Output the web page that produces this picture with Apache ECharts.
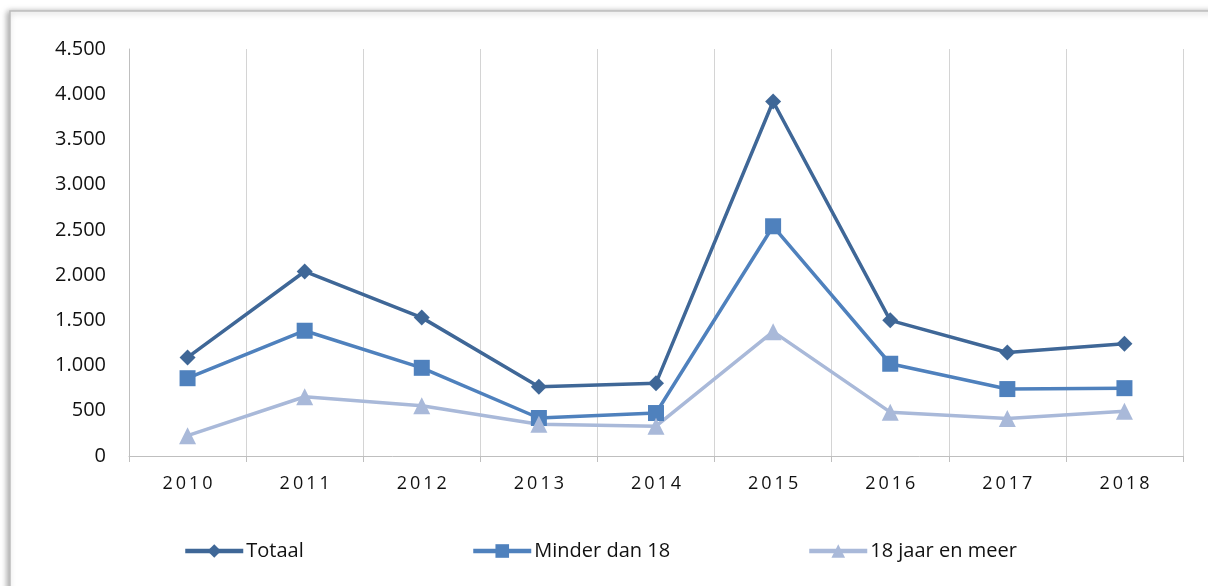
<!DOCTYPE html>
<html>
<head>
<meta charset="utf-8">
<script src="https://cdn.jsdelivr.net/npm/echarts@6/dist/echarts.min.js"></script>
<style>
  html, body { margin: 0; padding: 0; background: #fff; }
  #main { width: 1208px; height: 586px; }
</style>
</head>
<body>
<div id="main"></div>
<script>
// jaren
const years = ['2010', '2011', '2012', '2013', '2014', '2015', '2016', '2017', '2018'];
const totaal = [1090, 2040, 1530, 765, 805, 3920, 1500, 1145, 1240];
const minder18 = [860, 1385, 975, 420, 475, 2540, 1020, 740, 750];
const meer18 = [225, 655, 555, 350, 330, 1375, 485, 415, 495];
const yTicks = [0, 500, 1000, 1500, 2000, 2500, 3000, 3500, 4000, 4500];

const chart = echarts.init(document.getElementById('main'));
const font = 'Open Sans';

function spaced(s) {
  return s.split('').join('\u2009');
}

const legendBase = {
  top: 536,
  itemWidth: 58,
  itemHeight: 17,
  itemGap: 4,
  lineStyle: { width: 4.5 },
  textStyle: { fontFamily: font, fontSize: 20, color: '#111', padding: [0, 0, 0, -2] }
};

chart.setOption({
  animation: false,
  graphic: [{
    type: 'rect',
    shape: { x: 10, y: 11, width: 1210, height: 590 },
    style: {
      fill: '#fff', stroke: '#bdbdbd', lineWidth: 1.5,
      shadowBlur: 6, shadowColor: 'rgba(0,0,0,0.35)', shadowOffsetX: -2, shadowOffsetY: 1
    },
    z: -10
  }],
  grid: { left: 129, right: 25, top: 49, bottom: 130 },
  legend: [
    Object.assign({ left: 178, data: ['Totaal'] }, legendBase),
    Object.assign({ left: 466, data: ['Minder dan 18'] }, legendBase),
    Object.assign({ left: 802, data: ['18 jaar en meer'] }, legendBase)
  ],
  xAxis: {
    type: 'category',
    data: years,
    boundaryGap: true,
    axisLine: { lineStyle: { color: '#bfbfbf', width: 1 } },
    axisTick: { show: true, length: 6, lineStyle: { color: '#bfbfbf' } },
    splitLine: { show: true, lineStyle: { color: '#d4d4d4', width: 1 } },
    axisLabel: {
      fontFamily: font, fontSize: 18, color: '#111', margin: 19,
      formatter: v => spaced(v)
    }
  },
  yAxis: {
    type: 'value',
    min: 0, max: 4500, interval: 500,
    axisLine: { show: true, lineStyle: { color: '#bfbfbf' } },
    axisTick: { show: false },
    splitLine: { show: false },
    axisLabel: {
      fontFamily: font, fontSize: 20, color: '#111', margin: 23,
      formatter: v => yTicks.includes(v) ? v.toLocaleString('nl-NL') : ''
    }
  },
  series: [
    {
      name: 'Totaal', type: 'line', data: totaal,
      symbol: 'diamond', symbolSize: 16,
      lineStyle: { color: '#3F6797', width: 3.5 },
      itemStyle: { color: '#3F6797' }
    },
    {
      name: 'Minder dan 18', type: 'line', data: minder18,
      symbol: 'rect', symbolSize: 16,
      lineStyle: { color: '#4F81BD', width: 3.5 },
      itemStyle: { color: '#4F81BD' }
    },
    {
      name: '18 jaar en meer', type: 'line', data: meer18,
      symbol: 'triangle', symbolSize: 17,
      lineStyle: { color: '#A9B9D9', width: 3.5 },
      itemStyle: { color: '#A9B9D9' }
    }
  ]
});
</script>
</body>
</html>
